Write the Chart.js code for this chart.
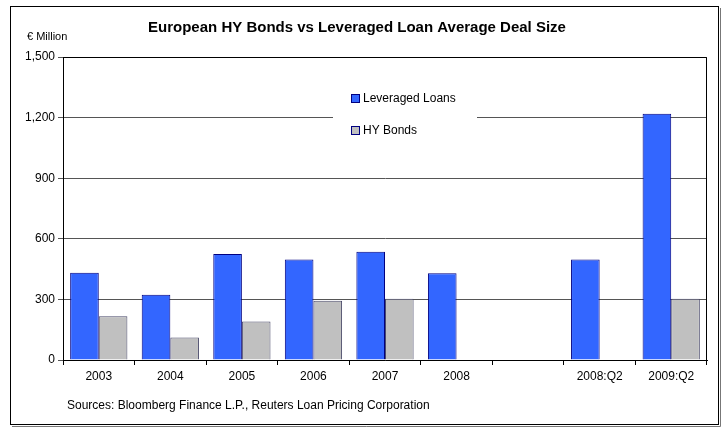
<!DOCTYPE html>
<html>
<head>
<meta charset="utf-8">
<script src="https://cdn.jsdelivr.net/npm/chart.js@4/dist/chart.umd.min.js"></script>
<style>
  html, body { margin: 0; padding: 0; background: #fff; }
  #wrap { width: 725px; height: 427px; position: relative; }
</style>
</head>
<body>
<div id="wrap"><canvas id="chart" width="725" height="427"></canvas></div>
<script>
// datos
const categorias = ["2003", "2004", "2005", "2006", "2007", "2008", "", "2008:Q2", "2009:Q2"];
const prestamos = [432, 323, 525, 498, 536, 430, null, 498, 1219];
const bonos = [216, 112, 191, 293, 303, null, null, null, 303];
const ticksY = [0, 300, 600, 900, 1200, 1500];

const FONT = "Arial, 'Liberation Sans', sans-serif";

// marco, titulos, leyenda y fuentes
const decoracion = {
  id: "decoracion",
  beforeDraw(chart) {
    const c = chart.ctx;
    c.save();
    c.fillStyle = "#fff";
    c.fillRect(0, 0, chart.width, chart.height);
    c.restore();
  },
  afterDatasetsDraw(chart) {
    const c = chart.ctx;
    const a = chart.chartArea;
    c.save();
    // borde del area de trazado
    c.strokeStyle = "#000";
    c.lineWidth = 1;
    c.beginPath();
    c.moveTo(a.left + 0.5, a.top + 0.5);
    c.lineTo(a.right - 0.5, a.top + 0.5);
    c.lineTo(a.right - 0.5, a.bottom);
    c.stroke();

    // leyenda con fondo blanco
    c.fillStyle = "#fff";
    c.fillRect(333, 84, 144, 60);
    const items = chart.data.datasets;
    items.forEach((ds, i) => {
      const y = 99 + i * 32;
      c.fillStyle = ds.backgroundColor;
      c.fillRect(352, y - 4, 7, 7);
      c.strokeStyle = "#000080";
      c.strokeRect(351.5, y - 4.5, 8, 8);
      c.fillStyle = "#000";
      c.font = "12px " + FONT;
      c.textBaseline = "middle";
      c.textAlign = "left";
      c.fillText(ds.label, 363, y);
    });

    // titulo
    c.fillStyle = "#000";
    c.font = "bold 15px " + FONT;
    c.textAlign = "center";
    c.textBaseline = "middle";
    c.fillText("European HY Bonds vs Leveraged Loan Average Deal Size", 357, 28);

    c.font = "11px " + FONT;
    c.textAlign = "left";
    c.fillText("€ Million", 27, 37);

    c.font = "12px " + FONT;
    c.fillText("Sources: Bloomberg Finance L.P., Reuters Loan Pricing Corporation", 67, 406);

    // marco exterior
    c.strokeStyle = "#000";
    c.lineWidth = 1;
    c.strokeRect(10.5, 6.5, 708, 418);
    c.strokeStyle = "#777";
    c.beginPath();
    c.moveTo(720.5, 8);
    c.lineTo(720.5, 426.5);
    c.lineTo(12, 426.5);
    c.stroke();
    c.restore();
  }
};

new Chart(document.getElementById("chart").getContext("2d"), {
  type: "bar",
  data: {
    labels: categorias,
    datasets: [
      {
        label: "Leveraged Loans",
        data: prestamos,
        backgroundColor: "#3366FF",
        borderColor: "#000080",
        borderWidth: 1,
      },
      {
        label: "HY Bonds",
        data: bonos,
        backgroundColor: "#C0C0C0",
        borderColor: "#4a4a6a",
        borderWidth: 1,
      },
    ],
  },
  options: {
    responsive: false,
    animation: false,
    layout: { padding: { left: 0, top: 57, right: 18, bottom: 0 } },
    plugins: {
      legend: { display: false },
      title: { display: false },
      tooltip: { enabled: false },
    },
    datasets: { bar: { categoryPercentage: 0.8, barPercentage: 1.0 } },
    scales: {
      x: {
        offset: true,
        grid: {
          offset: true,
          drawOnChartArea: false,
          drawTicks: true,
          tickLength: 5,
          color: "#000",
        },
        border: { color: "#000" },
        ticks: {
          color: "#000",
          font: { family: FONT, size: 12 },
          padding: 4,
          maxRotation: 0,
          autoSkip: false,
        },
        afterFit(scale) { scale.height = 67; },
      },
      y: {
        min: 0,
        max: 1500,
        afterBuildTicks(scale) { scale.ticks = ticksY.map((v) => ({ value: v })); },
        grid: { color: "#555", tickLength: 5, drawTicks: true },
        border: { color: "#000" },
        ticks: {
          color: "#000",
          font: { family: FONT, size: 12 },
          padding: 3,
          callback: (v) => v.toLocaleString("en-US"),
        },
        afterFit(scale) { scale.width = 63; },
      },
    },
  },
  plugins: [decoracion],
});
</script>
</body>
</html>
